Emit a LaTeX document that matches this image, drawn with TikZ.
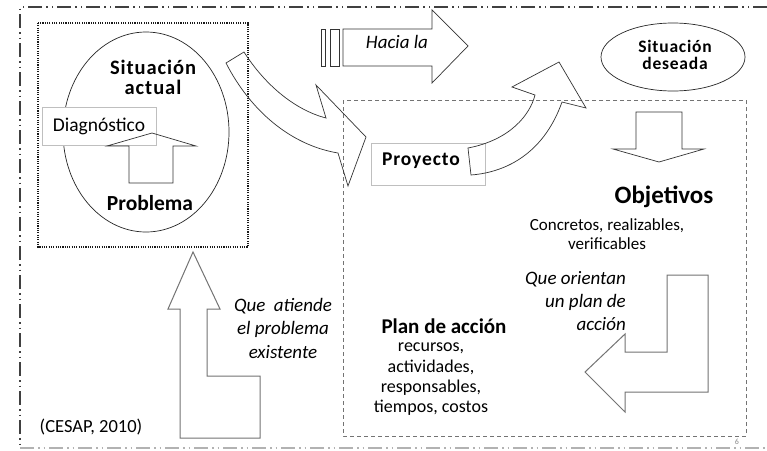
\documentclass[tikz,border=0pt]{standalone}
\usepackage{fontspec}
\setmainfont{Carlito}
\newfontfamily\spacedfont[LetterSpace=4.5]{Carlito}
\tikzset{
  frameline/.style={draw=black!75, line width=1.1pt, dash pattern=on 14pt off 4pt on 1.5pt off 4pt on 1.5pt off 4pt},
  dotbox/.style={draw=black!90, line width=1.1pt, dash pattern=on 1.1pt off 1.2pt},
  dashbox/.style={draw=black!55, line width=0.9pt, dash pattern=on 4pt off 3pt},
  arrowline/.style={draw=black!80, line width=0.7pt, line join=miter},
  grayarrow/.style={draw=black!55, line width=1pt, line join=miter},
  lightbox/.style={draw=black!25, line width=0.7pt, fill=white, inner sep=0pt},
  boldtxt/.style={font=\spacedfont\bfseries\fontsize{21}{19}\selectfont, align=center, inner sep=0pt},
  plaintxt/.style={font=\fontsize{18}{20.3}\selectfont, align=center, inner sep=0pt},
  itxt/.style={font=\itshape\fontsize{19}{23}\selectfont, inner sep=0pt}
}
\begin{document}
\begin{tikzpicture}[x=1pt,y=-1pt]
\useasboundingbox (0,0) rectangle (767,450);
\fill[white] (0,0) rectangle (767,450);

% outer frame
\draw[frameline] (767,7) -- (20,7) -- (20,448);
\draw[frameline, draw=black!30] (20,448) -- (767,448);

% left dotted box and ellipse
\draw[dotbox] (38,23) rectangle (248,247);
\draw[black!85, line width=0.7pt] (146,132) ellipse [x radius=83pt, y radius=100pt];
\node[boldtxt, font=\spacedfont\bfseries\fontsize{20.5}{20.5}\selectfont] (sit) at (153,77.5) {Situación\\actual};
\node[lightbox, minimum width=114pt, minimum height=38pt, font=\fontsize{19.5}{21}\selectfont] (diag) at (99,126) {Diagnóstico};
\draw[arrowline] (152,133) -- (196,146) -- (173,146) -- (173,183) -- (129,183) -- (129,146) -- (107,146) -- cycle;
\node[inner sep=0pt, font=\bfseries\fontsize{21.5}{21}\selectfont] (prob) at (150,203) {Problema};

% big dashed box
\draw[dashbox] (343,100) rectangle (746,436);

% curved arrow towards Proyecto
\draw[arrowline] (244,52) .. controls (265,85) and (295,110) .. (326,118) -- (316,85) -- (366,137) -- (348,186) -- (338,153) .. controls (290,145) and (250,110) .. (226,63) -- cycle;

% Hacia la arrow
\draw[arrowline] (321,29) rectangle (325,66);
\draw[arrowline] (330,29) rectangle (339,66);
\draw[arrowline] (343,29) -- (432,29) -- (432,10) -- (468,46) -- (432,83) -- (432,66) -- (343,66) -- cycle;
\node[itxt] (hacia) at (397,42) {Hacia la};

% Proyecto
\node[lightbox, minimum width=114pt, minimum height=42pt] (proybox) at (428,164) {};
\node[boldtxt, font=\spacedfont\bfseries\fontsize{19.5}{19}\selectfont] (proy) at (421,161) {Proyecto};
\draw[arrowline] (468,148) .. controls (510,140) and (530,115) .. (535,95) -- (512,87) -- (559,62) -- (586,108) -- (562,102) .. controls (545,150) and (510,172) .. (471,175) -- cycle;

% Situacion deseada
\draw[black!85, line width=0.7pt] (673,57) ellipse [x radius=72pt, y radius=34pt];
\node[boldtxt, font=\spacedfont\bfseries\fontsize{17.5}{17.5}\selectfont] (des) at (675,55) {Situación\\deseada};
\draw[arrowline] (636,112) -- (682,112) -- (682,149) -- (704,149) -- (659,162) -- (613,149) -- (636,149) -- cycle;

% Objetivos
\node[inner sep=0pt, font=\bfseries\fontsize{25}{25}\selectfont] (obj) at (664,197) {Objetivos};
\node[plaintxt, font=\fontsize{17}{19}\selectfont] (conc) at (607,234.5) {Concretos, realizables,\\verificables};

% Que orientan + L arrow
\node[itxt, align=right, anchor=east] (orient) at (626,301) {Que orientan\\un plan de\\acción};
\draw[grayarrow] (585,372) -- (625,334) -- (625,352) -- (667,352) -- (667,275) -- (708,275) -- (708,392) -- (625,392) -- (625,412) -- cycle;

% Plan de accion
\node[inner sep=0pt, font=\bfseries\fontsize{21}{21}\selectfont] (plan) at (444,326) {Plan de acción};
\node[plaintxt] (rec) at (431,379.5) {recursos,\\actividades,\\responsables,\\tiempos, costos};

% Up L arrow
\draw[grayarrow] (193,252) -- (220,309) -- (207,309) -- (207,376) -- (260,376) -- (260,438) -- (180,438) -- (180,309) -- (168,309) -- cycle;
\node[itxt, align=center, font=\itshape\fontsize{19}{23.5}\selectfont] (atiende) at (283,328) {Que\hspace{4pt} atiende\\el problema\\existente};

% source
\node[inner sep=0pt, font=\fontsize{18.5}{18.5}\selectfont] (src) at (91,427) {(CESAP, 2010)};
\node[inner sep=0pt, text=black!45, font=\fontsize{8}{8}\selectfont] (pg) at (737,442) {6};
\end{tikzpicture}
\end{document}
